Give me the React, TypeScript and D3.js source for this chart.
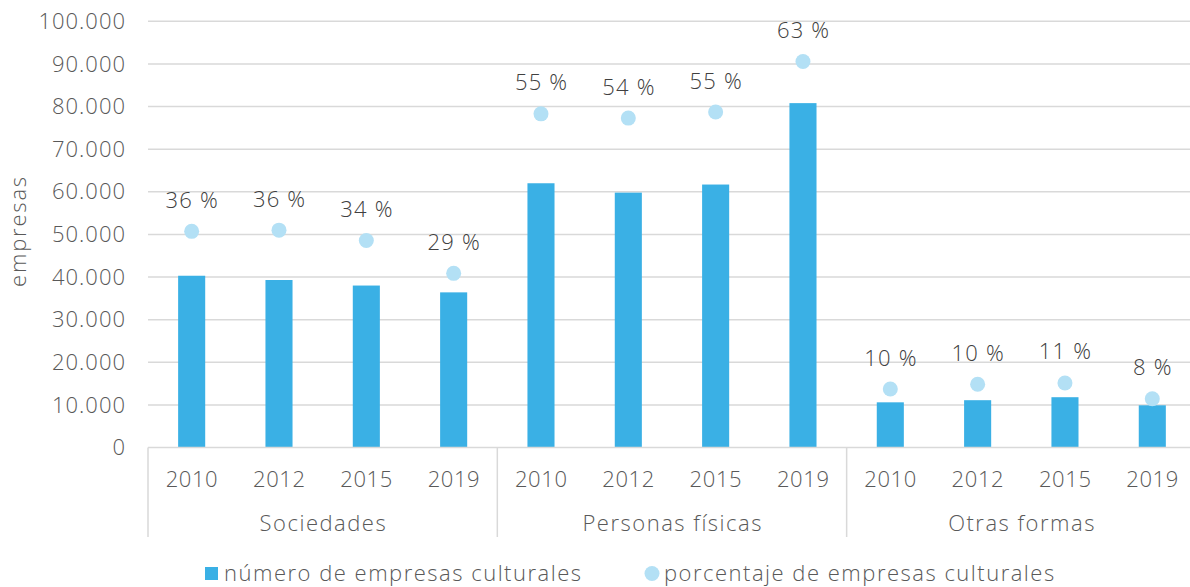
import React from "react";
import * as d3 from "d3";

const groups = ["Sociedades", "Personas físicas", "Otras formas"];
const years = ["2010", "2012", "2015", "2019"];
const empresas = [40300, 39300, 38000, 36400, 62000, 59800, 61700, 80800, 10600, 11100, 11800, 9900];
const porcentaje = [35.5, 35.7, 34.0, 28.6, 54.8, 54.1, 55.1, 63.4, 9.6, 10.4, 10.6, 8.0];
const yTicks = [0, 10000, 20000, 30000, 40000, 50000, 60000, 70000, 80000, 90000, 100000];
const seriesNames = ["número de empresas culturales", "porcentaje de empresas culturales"];

const W = 1190;
const H = 587;
const FONT = "'Open Sans', 'Noto Sans', sans-serif";

export default function App() {
  const left = 148;
  const step = 87.33;
  const n = groups.length * years.length;
  const x = d3
    .scaleBand<number>()
    .domain(d3.range(n))
    .range([left, left + n * step])
    .paddingInner(0.69)
    .paddingOuter(0.345);
  const y = d3.scaleLinear().domain([0, 100000]).range([447.5, 21.3]);
  const yPct = d3.scaleLinear().domain([0, 70]).range([447.5, 21.3]);
  const fmt = (v: number) => d3.format(",")(v).replace(/,/g, ".");
  const barColor = "#3AB0E5";
  const dotColor = "#B3E0F5";
  const grid = "#D9D9D9";
  const textCol = "#595959";
  const groupW = years.length * step;
  const numLS = 1;
  const wordLS = 1.5;

  return (
    <div style={{ position: "absolute", left: 0, top: 0 }}>
      <svg width={W} height={H} style={{ display: "block", fontFamily: FONT }}>
        <rect width={W} height={H} fill="#fff" />
        {yTicks.map((t) => (
          <g key={t}>
            {t > 0 && (
              <line x1={left} x2={left + n * step} y1={y(t)} y2={y(t)} stroke={grid} strokeWidth={1.5} />
            )}
            <text
              x={125 + numLS}
              y={y(t)}
              dy="0.35em"
              textAnchor="end"
              fontSize={22}
              fontWeight={300}
              letterSpacing={numLS}
              fill={textCol}
            >
              {fmt(t)}
            </text>
          </g>
        ))}
        <text
          transform={`translate(26,231) rotate(-90)`}
          textAnchor="middle"
          fontSize={22}
          fontWeight={300}
          letterSpacing={1.8}
          fill={textCol}
        >
          empresas
        </text>
        {empresas.map((v, i) => (
          <rect key={i} x={x(i)} y={y(v)} width={x.bandwidth()} height={y(0) - y(v)} fill={barColor} />
        ))}
        <line x1={left} x2={left + n * step} y1={y(0)} y2={y(0)} stroke={grid} strokeWidth={1.5} />
        {d3.range(groups.length + 1).map((g) => (
          <line
            key={g}
            x1={left + g * groupW}
            x2={left + g * groupW}
            y1={y(0)}
            y2={537}
            stroke={grid}
            strokeWidth={1.5}
          />
        ))}
        {porcentaje.map((p, i) => (
          <g key={i}>
            <circle cx={x(i)! + x.bandwidth() / 2} cy={yPct(p)} r={7.5} fill={dotColor} />
            <text
              x={x(i)! + x.bandwidth() / 2 + 0.6}
              y={yPct(p) - 23.5}
              textAnchor="middle"
              fontSize={22}
              fontWeight={300}
              letterSpacing={1.2}
              fill="#404040"
            >
              {`${Math.round(p)} %`}
            </text>
          </g>
        ))}
        {d3.range(n).map((i) => (
          <text
            key={i}
            x={x(i)! + x.bandwidth() / 2 + 0.3}
            y={487}
            textAnchor="middle"
            fontSize={22}
            fontWeight={300}
            letterSpacing={0.6}
            fill={textCol}
          >
            {years[i % years.length]}
          </text>
        ))}
        {groups.map((g, gi) => (
          <text
            key={g}
            x={left + gi * groupW + groupW / 2 + 0.75}
            y={531}
            textAnchor="middle"
            fontSize={22}
            fontWeight={300}
            letterSpacing={wordLS}
            fill={textCol}
          >
            {g}
          </text>
        ))}
        <rect x={205} y={567} width={13} height={13} fill={barColor} />
        <text x={224} y={581} fontSize={22} fontWeight={300} letterSpacing={wordLS} fill={textCol}>
          {seriesNames[0]}
        </text>
        <circle cx={652} cy={573.5} r={7.5} fill={dotColor} />
        <text x={664} y={581} fontSize={22} fontWeight={300} letterSpacing={wordLS} fill={textCol}>
          {seriesNames[1]}
        </text>
      </svg>
    </div>
  );
}
